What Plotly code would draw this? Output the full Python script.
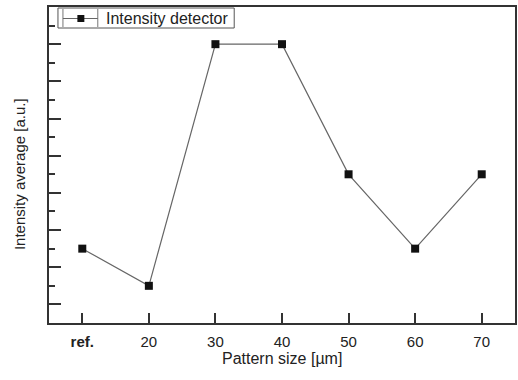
import plotly.graph_objects as go

categories = ["ref.", "20", "30", "40", "50", "60", "70"]
tick_labels = ["<b>ref.</b>", "20", "30", "40", "50", "60", "70"]
intensity = [4, 2, 15, 15, 8, 4, 8]
series_name = "Intensity detector"

FONT = "Liberation Sans, Arial, sans-serif"
AX = "#333333"
TXT = "#222222"

fig = go.Figure()
fig.add_trace(go.Scatter(
    x=categories, y=intensity, mode="lines+markers",
    name=series_name, showlegend=False,
    line=dict(color="#666666", width=1.2),
    marker=dict(symbol="square", size=8, color="#111111"),
))

# legend box drawn manually (compact, like the original)
def px(x):
    return (x - 49) / 468
def py(y):
    return (323 - y) / 316

shapes = [
    dict(type="rect", xref="paper", yref="paper", x0=px(58), x1=px(235), y0=py(28), y1=py(8),
         line=dict(color="#555555", width=1), fillcolor="white"),
    dict(type="line", xref="paper", yref="paper", x0=px(63), x1=px(63), y0=py(27), y1=py(9),
         line=dict(color="#777777", width=1)),
    dict(type="line", xref="paper", yref="paper", x0=px(98), x1=px(98), y0=py(27), y1=py(9),
         line=dict(color="#777777", width=1)),
    dict(type="line", xref="paper", yref="paper", x0=px(63), x1=px(98), y0=py(18.5), y1=py(18.5),
         line=dict(color="#666666", width=1.2)),
    dict(type="rect", xref="paper", yref="paper", x0=px(77.5), x1=px(84.5), y0=py(22), y1=py(15),
         line=dict(color="#111111", width=0), fillcolor="#111111"),
]
annotations = [
    dict(text=series_name, xref="paper", yref="paper", x=px(104), y=py(18.5),
         xanchor="left", yanchor="middle", showarrow=False,
         font=dict(family=FONT, size=16, color=TXT)),
    dict(text="Intensity average [a.u.]", xref="paper", yref="paper", x=px(20), y=py(174),
         xanchor="center", yanchor="middle", textangle=-90, showarrow=False,
         font=dict(family=FONT, size=15, color=TXT)),
    dict(text="Pattern size [µm]", xref="paper", yref="paper", x=0.5, y=py(358),
         xanchor="center", yanchor="middle", showarrow=False,
         font=dict(family=FONT, size=16, color=TXT)),
]

fig.update_layout(
    width=518, height=380,
    margin=dict(l=49, r=1, t=7, b=57),
    paper_bgcolor="white", plot_bgcolor="white",
    font=dict(family=FONT, size=13, color=TXT),
    shapes=shapes, annotations=annotations,
    xaxis=dict(
        type="category", range=[-0.5, 6.5],
        tickvals=categories, ticktext=tick_labels,
        ticks="inside", ticklen=10, tickwidth=1.5, tickcolor=AX,
        showline=True, linecolor=AX, linewidth=1.5, mirror=True,
        showgrid=False, zeroline=False,
        tickfont=dict(size=15, color=TXT),
        ticklabelstandoff=4,
    ),
    yaxis=dict(
        range=[0, 17], tick0=1, dtick=2,
        ticks="inside", ticklen=12, tickwidth=1.5, tickcolor=AX,
        showticklabels=False,
        minor=dict(ticks="inside", ticklen=6, tickwidth=1.5, tickcolor=AX, dtick=1, tick0=0),
        showline=True, linecolor=AX, linewidth=1.5, mirror=True,
        showgrid=False, zeroline=False,
    ),
)

fig.write_html("out.html")
